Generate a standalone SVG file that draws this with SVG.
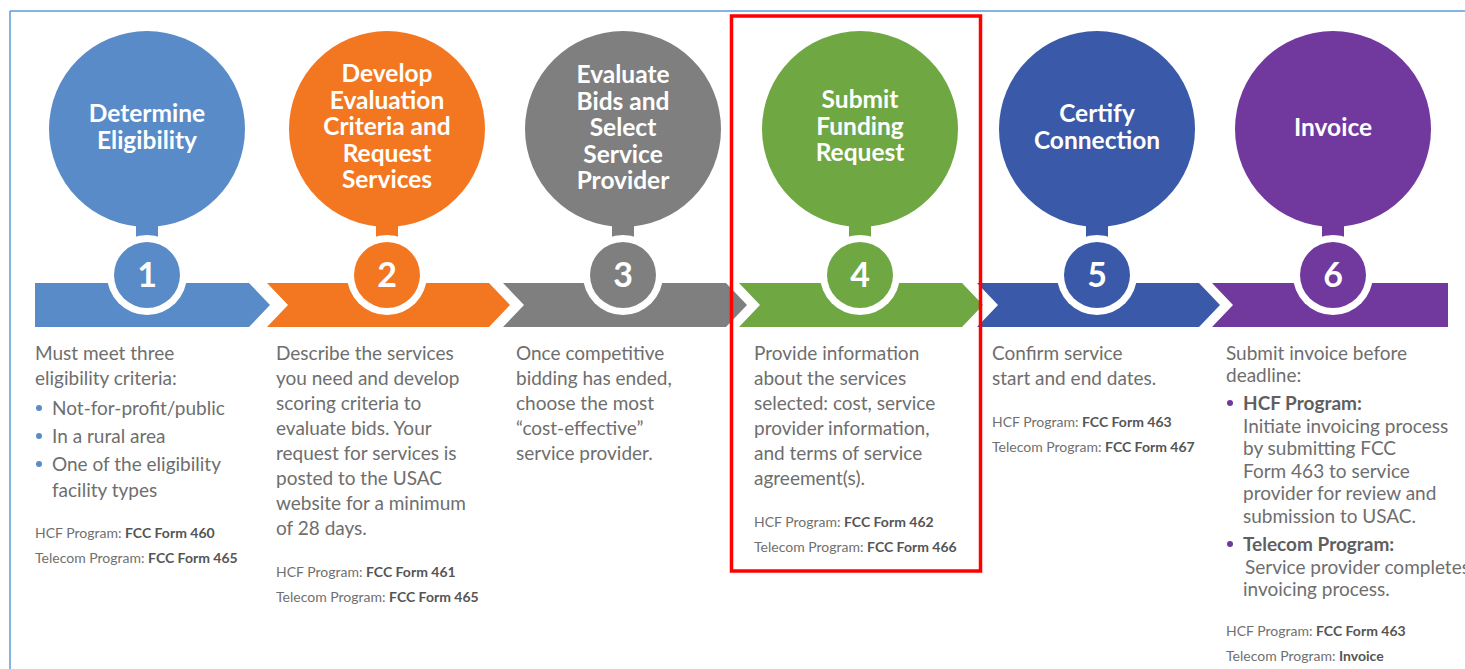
<svg xmlns="http://www.w3.org/2000/svg" width="1465" height="669" viewBox="0 0 1465 669">
  <style>
    .title { font-family: Lato, "Open Sans", sans-serif; font-weight: 700; font-size: 24.5px; fill: #ffffff; text-anchor: middle; }
    .num { font-family: Lato, "Open Sans", sans-serif; font-weight: 700; font-size: 34px; fill: #ffffff; text-anchor: middle; }
    .body { font-family: Lato, "Open Sans", sans-serif; font-size: 19px; fill: #6e6e6e; }
    .bold { font-weight: 700; fill: #5f5f5f; }
    .small { font-family: Lato, "Open Sans", sans-serif; font-size: 14px; fill: #707070; }
    .small tspan.b { font-weight: 700; fill: #555555; }
    .ring { fill: #ffffff; }
  </style>

  <!-- frame -->
  <g id="frame" fill="none" stroke="#5B9BD5" stroke-width="1.5">
    <line x1="10" y1="11" x2="1465" y2="11"/>
    <line x1="10" y1="11" x2="10" y2="669"/>
  </g>

  <!-- arrow band joining the steps -->
  <g id="connectors">
    <polygon fill="#598BC9" points="35,283 249,283 270,305 249,327 35,327"/>
    <polygon fill="#F37721" points="267,283 489,283 510,305 489,327 267,327 288,305"/>
    <polygon fill="#7F7F7F" points="503,283 726,283 747,305 726,327 503,327 524,305"/>
    <polygon fill="#6FA743" points="739,283 962,283 983,305 962,327 739,327 760,305"/>
    <polygon fill="#3A59A8" points="977,283 1199,283 1220,305 1199,327 977,327 998,305"/>
    <polygon fill="#71389D" points="1212,283 1448,283 1448,327 1212,327 1233,305"/>
  </g>

  <!-- step 1 -->
  <g id="step1">
    <circle cx="147" cy="129" r="98" fill="#598BC9"/>
    <rect x="136" y="220" width="22" height="30" fill="#598BC9"/>
    <circle class="ring" cx="147" cy="275" r="40"/>
    <circle cx="147" cy="275" r="33" fill="#598BC9"/>
    <text class="title" x="147" y="122">Determine</text>
    <text class="title" x="147" y="148.5">Eligibility</text>
    <text class="num" x="147" y="287">1</text>
    <text class="body" x="35" y="360">Must meet three</text>
    <text class="body" x="35" y="385">eligibility criteria:</text>
    <g fill="#598BC9">
      <circle cx="39" cy="408" r="3"/>
      <circle cx="39" cy="436" r="3"/>
      <circle cx="39" cy="464" r="3"/>
    </g>
    <text class="body" x="52" y="415">Not-for-profit/public</text>
    <text class="body" x="52" y="443">In a rural area</text>
    <text class="body" x="52" y="471">One of the eligibility</text>
    <text class="body" x="52" y="497">facility types</text>
    <text class="small" x="35" y="538">HCF Program: <tspan class="b">FCC Form 460</tspan></text>
    <text class="small" x="35" y="563">Telecom Program: <tspan class="b">FCC Form 465</tspan></text>
  </g>

  <!-- step 2 -->
  <g id="step2">
    <circle cx="387" cy="129" r="98" fill="#F37721"/>
    <rect x="376" y="220" width="22" height="30" fill="#F37721"/>
    <circle class="ring" cx="387" cy="275" r="40"/>
    <circle cx="387" cy="275" r="33" fill="#F37721"/>
    <text class="title" x="387" y="82">Develop</text>
    <text class="title" x="387" y="108.5">Evaluation</text>
    <text class="title" x="387" y="135">Criteria and</text>
    <text class="title" x="387" y="161.5">Request</text>
    <text class="title" x="387" y="188">Services</text>
    <text class="num" x="387" y="287">2</text>
    <text class="body" x="276" y="360">Describe the services</text>
    <text class="body" x="276" y="385">you need and develop</text>
    <text class="body" x="276" y="410">scoring criteria to</text>
    <text class="body" x="276" y="435">evaluate bids. Your</text>
    <text class="body" x="276" y="460">request for services is</text>
    <text class="body" x="276" y="485">posted to the USAC</text>
    <text class="body" x="276" y="510">website for a minimum</text>
    <text class="body" x="276" y="535">of 28 days.</text>
    <text class="small" x="276" y="577">HCF Program: <tspan class="b">FCC Form 461</tspan></text>
    <text class="small" x="276" y="602">Telecom Program: <tspan class="b">FCC Form 465</tspan></text>
  </g>

  <!-- step 3 -->
  <g id="step3">
    <circle cx="623" cy="129" r="98" fill="#7F7F7F"/>
    <rect x="612" y="220" width="22" height="30" fill="#7F7F7F"/>
    <circle class="ring" cx="623" cy="275" r="40"/>
    <circle cx="623" cy="275" r="33" fill="#7F7F7F"/>
    <text class="title" x="623" y="83">Evaluate</text>
    <text class="title" x="623" y="109.5">Bids and</text>
    <text class="title" x="623" y="136">Select</text>
    <text class="title" x="623" y="162.5">Service</text>
    <text class="title" x="623" y="189">Provider</text>
    <text class="num" x="623" y="287">3</text>
    <text class="body" x="516" y="360">Once competitive</text>
    <text class="body" x="516" y="385">bidding has ended,</text>
    <text class="body" x="516" y="410">choose the most</text>
    <text class="body" x="516" y="435">“cost-effective”</text>
    <text class="body" x="516" y="460">service provider.</text>
  </g>

  <!-- step 4 -->
  <g id="step4">
    <circle cx="860" cy="129" r="98" fill="#6FA743"/>
    <rect x="849" y="220" width="22" height="30" fill="#6FA743"/>
    <circle class="ring" cx="860" cy="275" r="40"/>
    <circle cx="860" cy="275" r="33" fill="#6FA743"/>
    <text class="title" x="860" y="108">Submit</text>
    <text class="title" x="860" y="134.5">Funding</text>
    <text class="title" x="860" y="161">Request</text>
    <text class="num" x="860" y="287">4</text>
    <text class="body" x="754" y="360">Provide information</text>
    <text class="body" x="754" y="385">about the services</text>
    <text class="body" x="754" y="410">selected: cost, service</text>
    <text class="body" x="754" y="435">provider information,</text>
    <text class="body" x="754" y="460">and terms of service</text>
    <text class="body" x="754" y="485">agreement(s).</text>
    <text class="small" x="754" y="527">HCF Program: <tspan class="b">FCC Form 462</tspan></text>
    <text class="small" x="754" y="552">Telecom Program: <tspan class="b">FCC Form 466</tspan></text>
  </g>

  <!-- step 5 -->
  <g id="step5">
    <circle cx="1097" cy="129" r="98" fill="#3A59A8"/>
    <rect x="1086" y="220" width="22" height="30" fill="#3A59A8"/>
    <circle class="ring" cx="1097" cy="275" r="40"/>
    <circle cx="1097" cy="275" r="33" fill="#3A59A8"/>
    <text class="title" x="1097" y="122">Certify</text>
    <text class="title" x="1097" y="149">Connection</text>
    <text class="num" x="1097" y="287">5</text>
    <text class="body" x="992" y="360">Confirm service</text>
    <text class="body" x="992" y="385">start and end dates.</text>
    <text class="small" x="992" y="427">HCF Program: <tspan class="b">FCC Form 463</tspan></text>
    <text class="small" x="992" y="452">Telecom Program: <tspan class="b">FCC Form 467</tspan></text>
  </g>

  <!-- step 6 -->
  <g id="step6">
    <circle cx="1333" cy="129" r="98" fill="#71389D"/>
    <rect x="1322" y="220" width="22" height="30" fill="#71389D"/>
    <circle class="ring" cx="1333" cy="275" r="40"/>
    <circle cx="1333" cy="275" r="33" fill="#71389D"/>
    <text class="title" x="1333" y="136">Invoice</text>
    <text class="num" x="1333" y="287">6</text>
    <text class="body" x="1226" y="360">Submit invoice before</text>
    <text class="body" x="1226" y="382">deadline:</text>
    <g fill="#71389D">
      <circle cx="1230" cy="403" r="3"/>
      <circle cx="1230" cy="544" r="3"/>
    </g>
    <text class="body bold" x="1243" y="410">HCF Program:</text>
    <text class="body" x="1243" y="433">Initiate invoicing process</text>
    <text class="body" x="1243" y="455">by submitting FCC</text>
    <text class="body" x="1243" y="478">Form 463 to service</text>
    <text class="body" x="1243" y="500">provider for review and</text>
    <text class="body" x="1243" y="523">submission to USAC.</text>
    <text class="body bold" x="1243" y="551">Telecom Program:</text>
    <text class="body" x="1245" y="574">Service provider completes</text>
    <text class="body" x="1243" y="596">invoicing process.</text>
    <text class="small" x="1226" y="636">HCF Program: <tspan class="b">FCC Form 463</tspan></text>
    <text class="small" x="1226" y="661">Telecom Program: <tspan class="b">Invoice</tspan></text>
  </g>

  <!-- highlight around step 4 -->
  <rect id="highlight" x="731.5" y="16" width="249" height="555" fill="none" stroke="#FF0000" stroke-width="3.5"/>
</svg>
